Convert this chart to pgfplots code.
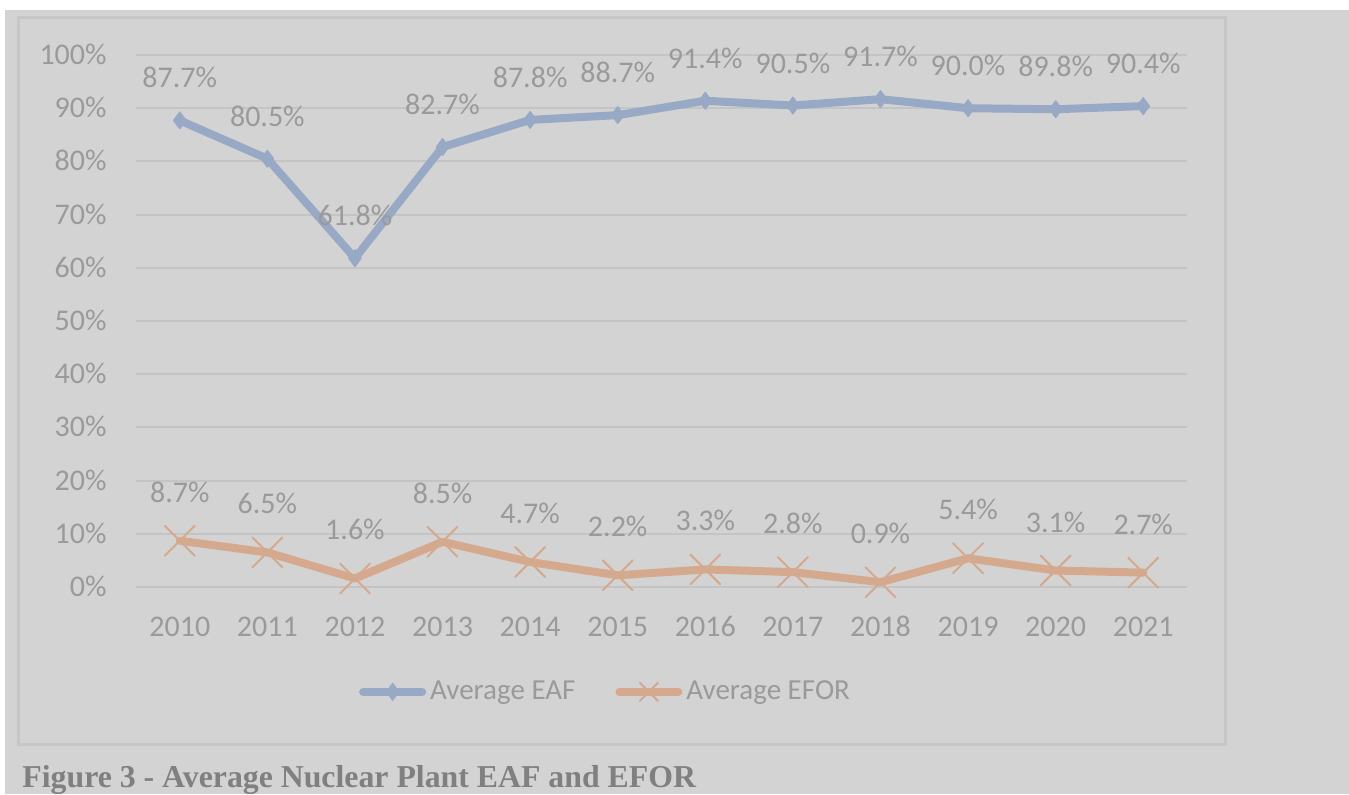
\documentclass[border=0pt]{standalone}
\usepackage{fontspec}
\setmainfont{Carlito}
\newfontfamily\capfont{Liberation Serif}
\usepackage{pgfplots}
\pgfplotsset{compat=1.18}
\definecolor{bgc}{HTML}{D3D3D3}
\definecolor{framec}{HTML}{C6C6C6}
\definecolor{gridc}{HTML}{C4C4C4}
\definecolor{txtc}{HTML}{9A9A9A}
\definecolor{eafc}{HTML}{98A9C6}
\definecolor{eforc}{HTML}{D5A98D}
\definecolor{capc}{HTML}{808080}

\begin{document}
\begin{tikzpicture}
\useasboundingbox (0,0) rectangle (674.5pt,397pt);
\fill[white] (0,0) rectangle (674.5pt,397pt);
\fill[bgc] (2.5pt,0) rectangle (674.5pt,392pt);
\draw[framec, line width=1.5pt] (9pt,25pt) rectangle (612.5pt,388pt);

\begin{axis}[
  at={(68pt,103.5pt)}, anchor=south west,
  scale only axis, width=525.5pt, height=266pt,
  xmin=-0.5, xmax=11.5, ymin=0, ymax=100,
  axis line style={draw=none},
  major tick length=0pt, tick style={draw=none},
  ymajorgrids, major grid style={gridc, line width=1pt},
  ytick={0,10,...,100},
  yticklabel={\pgfmathprintnumber{\tick}\%},
  xtick={0,...,11},
  xticklabels={2010,2011,2012,2013,2014,2015,2016,2017,2018,2019,2020,2021},
  /pgf/number format/assume math mode=true,
  ticklabel style={font=\fontsize{15}{18}\selectfont, text=txtc, text height=9.5pt, text depth=0pt},
  yticklabel style={anchor=east, inner sep=0pt, xshift=-14.5pt},
  xticklabel style={anchor=center, inner sep=0pt, yshift=-20pt},
  clip=false,
  nodes near coords={\pgfmathprintnumber[fixed,fixed zerofill,precision=1]{\pgfplotspointmeta}\%},
  every node near coord/.append style={font=\fontsize{15}{18}\selectfont, text=txtc, anchor=center, inner sep=0pt, text height=9.5pt, text depth=0pt},
  legend columns=2,
  legend style={at={(0.4477,-0.197)}, anchor=center, draw=none, fill=none,
    font=\fontsize{14.5}{17}\selectfont, text=txtc,
    /tikz/every even column/.append style={column sep=18pt}},
  legend cell align=left,
  legend image code/.code={
    \draw[mark repeat=2,mark phase=2,#1] plot coordinates {(2pt,0pt) (16.75pt,0pt) (31.5pt,0pt)};
  },
]
\addplot[eafc, line width=4pt, line join=round, line cap=round,
  mark=diamond*, mark size=4.25pt, mark options={solid, fill=eafc, draw=eafc, line width=0.5pt},
  every node near coord/.append style={yshift=21pt}]
  coordinates {(0,87.7) (1,80.5) (2,61.8) (3,82.7) (4,87.8) (5,88.7) (6,91.4) (7,90.5) (8,91.7) (9,90.0) (10,89.8) (11,90.4)};
\addlegendentry{Average EAF}
\addplot[eforc, line width=4pt, line join=round, line cap=round,
  mark=x, mark size=10.6pt, mark options={solid, draw=eforc, line width=1pt},
  legend image post style={mark size=6.4pt},
  every node near coord/.append style={yshift=24pt}]
  coordinates {(0,8.7) (1,6.5) (2,1.6) (3,8.5) (4,4.7) (5,2.2) (6,3.3) (7,2.8) (8,0.9) (9,5.4) (10,3.1) (11,2.7)};
\addlegendentry{Average EFOR}
\end{axis}

\node[anchor=base west, inner sep=0pt, text=capc, font=\capfont\bfseries\fontsize{15.9}{18}\selectfont] at (11pt,3.5pt) {Figure 3 - Average Nuclear Plant EAF and EFOR};
\end{tikzpicture}
\end{document}
